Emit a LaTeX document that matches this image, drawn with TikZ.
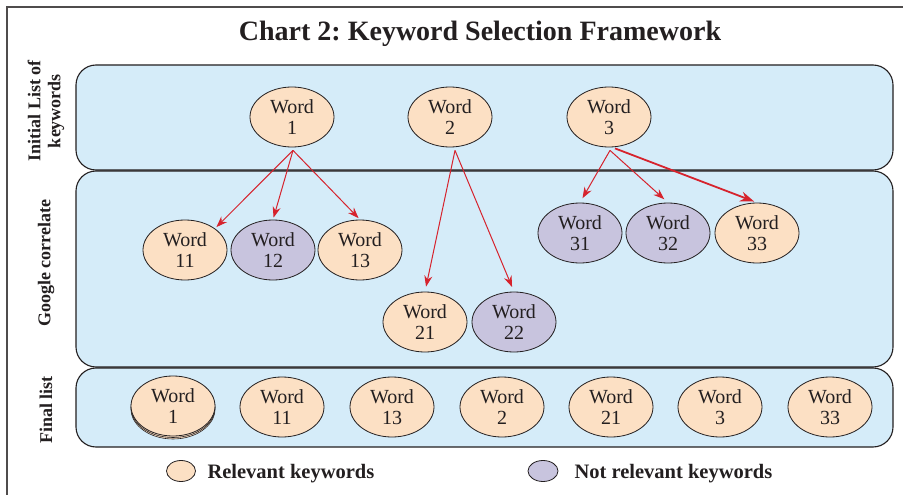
\documentclass[tikz,border=0pt]{standalone}
\usepackage{fontspec}
\setmainfont{Liberation Serif}
\usetikzlibrary{shapes.geometric,arrows.meta,calc}
\definecolor{peach}{RGB}{252,224,196}
\definecolor{lilac}{RGB}{200,196,222}
\definecolor{bandblue}{RGB}{213,236,249}
\definecolor{arrred}{RGB}{214,35,45}
\definecolor{ink}{RGB}{35,31,32}
\frenchspacing
\begin{document}
\begin{tikzpicture}[x=1pt,y=-1pt,
  band/.style={draw=ink,line width=1.1pt,fill=bandblue,rounded corners=20pt},
  word/.style={ellipse,draw=ink,line width=0.8pt,minimum width=84pt,minimum height=60pt,inner sep=0pt,align=center,font=\fontsize{20}{21}\selectfont,text=ink},
  rel/.style={word,fill=peach},
  nrel/.style={word,fill=lilac},
  side/.style={rotate=90,align=center,font=\fontsize{18}{20}\selectfont\bfseries,text=ink},
  arr/.style={draw=arrred,line width=1pt,-{Stealth[length=11pt,width=8pt]},shorten >=2pt},
  arrthick/.style={draw=arrred,line width=1.8pt,-{Stealth[length=14pt,width=10pt]},shorten >=2pt},
  legtxt/.style={anchor=base west,font=\fontsize{20.5}{22}\selectfont\bfseries,text=ink}]
\useasboundingbox (0,0) rectangle (903,495);
\fill[white] (0,0) rectangle (903,495);
% frame
\draw[ink!80,line width=1.2pt] (7,495) -- (7,7) -- (903,7);
% title
\node[font=\fontsize{28}{30}\selectfont\bfseries,text=ink] (title) at (480,34) {Chart 2: Keyword Selection Framework};
% bands
\draw[band] (76,65) rectangle (893,170);
\draw[band] (76,171) rectangle (893,367);
\draw[band] (76,368) rectangle (893,447);
% side labels
\node[side] (l1) at (46,111) {Initial List of\\keywords};
\node[side] (l2) at (46,263) {Google correlate};
\node[side] (l3) at (46,410) {Final list};
% row 1
\node[rel] (w1) at (292,117) {Word\\1};
\node[rel] (w2) at (450,117) {Word\\2};
\node[rel] (w3) at (609,117) {Word\\3};
% row 2
\node[rel] (w11) at (185,250) {Word\\11};
\node[nrel] (w12) at (273,250) {Word\\12};
\node[rel] (w13) at (360,250) {Word\\13};
\node[nrel] (w31) at (580,233) {Word\\31};
\node[nrel] (w32) at (668,233) {Word\\32};
\node[rel] (w33) at (757,233) {Word\\33};
\node[rel] (w21) at (425,322) {Word\\21};
\node[nrel] (w22) at (514,322) {Word\\22};
% arrow origins
\coordinate (s1) at ($(w1.south)+(1,3)$);
\coordinate (s2) at ($(w2.south)+(5,3)$);
\coordinate (s3) at ($(w3.south)+(1,3)$);
\coordinate (s3b) at ($(w3.south)+(6,1)$);
\draw[arr] (s1) -- (w11.north east);
\draw[arr] (s1) -- (w12.north);
\draw[arr] (s1) -- (w13.north);
\draw[arr,shorten >=5pt] (s2) -- (w21.north);
\draw[arr,shorten >=5pt] (s2) -- (w22.north);
\draw[arr,shorten >=5pt] (s3) -- (w31.north);
\draw[arr,shorten >=5pt] (s3) -- (w32.north);
\draw[arrthick,shorten >=3pt] (s3b) -- (w33.north);
% final row
\node[rel,line width=0.6pt,yshift=-3pt] (f1c) at (173,406) {};
\node[rel,line width=0.6pt,yshift=-1.5pt] (f1b) at (173,406) {};
\node[rel] (f1) at (173,406) {Word\\1};
\node[rel] (f11) at (282,407) {Word\\11};
\node[rel] (f13) at (392,407) {Word\\13};
\node[rel] (f2) at (502,407) {Word\\2};
\node[rel] (f21) at (611,407) {Word\\21};
\node[rel] (f3) at (720,407) {Word\\3};
\node[rel] (f33) at (830,407) {Word\\33};
% legend
\node[ellipse,draw=ink,line width=0.8pt,fill=peach,minimum width=29pt,minimum height=21pt,inner sep=0pt] (lg1) at (181,471) {};
\node[legtxt] (lt1) at (204,478) {Relevant keywords};
\node[ellipse,draw=ink,line width=0.8pt,fill=lilac,minimum width=30pt,minimum height=21pt,inner sep=0pt] (lg2) at (543,471) {};
\node[legtxt] (lt2) at (571,478) {Not relevant keywords};
\end{tikzpicture}
\end{document}
